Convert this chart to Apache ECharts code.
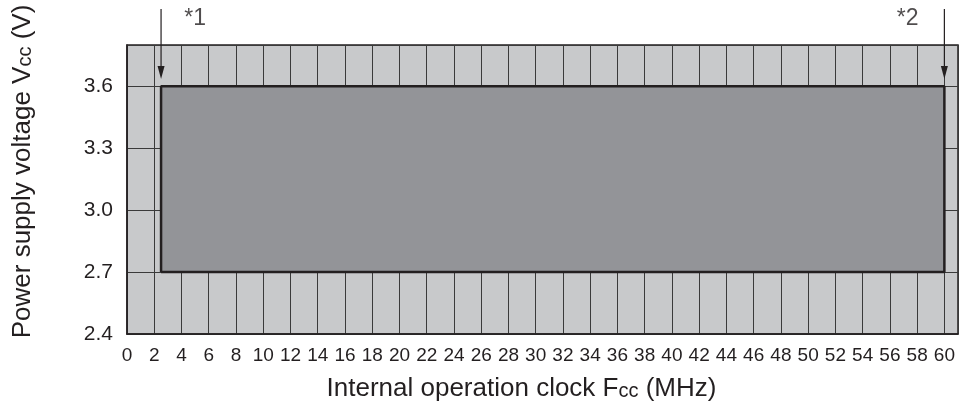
<!DOCTYPE html>
<html>
<head>
<meta charset="utf-8">
<script src="https://cdn.jsdelivr.net/npm/echarts@6/dist/echarts.min.js"></script>
<style>
  html, body {margin: 0; padding: 0; background: #fff;}
  #chart {width: 961px; height: 408px;}
</style>
</head>
<body>
<div id="chart"></div>
<script>
// axis ranges / ticks
const xRange = [0, 61];
const xStep = 2;
const xLabelMax = 60;
const yRange = [2.4, 3.8];
const yStep = 0.3;
const yTickLabels = ['2.4', '2.7', '3.0', '3.3', '3.6'];

// operating area
const areaFreq = [2.5, 60];
const areaVcc = [2.7, 3.6];

// note arrows: x position, arrow top, arrow tip
const noteFreq = [2.5, 60];
const noteNames = ['*1', '*2'];
const noteLabelFreq = [5.0, 57.3];
const arrowTop = 3.975;
const arrowTip = 3.635;
const noteLabelVcc = 3.93;

const font = '"Liberation Sans", Arial, sans-serif';
const ink = '#231f20';

const chart = echarts.init(document.getElementById('chart'));

const outline = [
  [areaFreq[0], areaVcc[0]],
  [areaFreq[0], areaVcc[1]],
  [areaFreq[1], areaVcc[1]],
  [areaFreq[1], areaVcc[0]],
  [areaFreq[0], areaVcc[0]]
];

const subStyle = {fontSize: 20, color: ink, fontFamily: font, verticalAlign: 'bottom', padding: [0, 0, 1, 0]};

// vertical arrow pointing down, drawn through the axes
function drawArrow(params, api) {
  const top = api.coord([api.value(0), api.value(1)]);
  const tip = api.coord([api.value(0), api.value(2)]);
  const headLen = 13, headHalf = 3.5;
  return {
    type: 'group',
    children: [
      {type: 'line', shape: {x1: top[0], y1: top[1], x2: tip[0], y2: tip[1] - headLen + 1},
       style: {stroke: ink, lineWidth: 1.2}},
      {type: 'polygon', shape: {points: [[tip[0] - headHalf, tip[1] - headLen], [tip[0] + headHalf, tip[1] - headLen], [tip[0], tip[1]]]},
       style: {fill: ink}}
    ]
  };
}

chart.setOption({
  animation: false,
  backgroundColor: '#fff',
  textStyle: {fontFamily: font},
  grid: {
    left: 127, right: 3, top: 45, bottom: 74,
    show: true,
    backgroundColor: '#c8c9cb',
    borderColor: ink,
    borderWidth: 1.5
  },
  xAxis: {
    type: 'value',
    min: xRange[0], max: xRange[1], interval: xStep,
    name: 'Internal operation clock F{s|cc} (MHz)',
    nameLocation: 'middle',
    nameGap: 42,
    nameTextStyle: {
      color: ink, fontSize: 26, fontFamily: font,
      padding: [0, 42, 0, 0],
      rich: {s: subStyle}
    },
    axisLine: {show: true, lineStyle: {color: ink, width: 1.5}},
    axisTick: {show: false},
    axisLabel: {
      color: ink, fontSize: 19, margin: 12, fontFamily: font,
      showMaxLabel: false,
      formatter: v => (v <= xLabelMax && v % xStep === 0) ? String(v) : ''
    },
    splitLine: {show: true, lineStyle: {color: '#3a3a3a', width: 1}}
  },
  yAxis: {
    type: 'value',
    min: yRange[0], max: yRange[1], interval: yStep,
    name: 'Power supply voltage V{s|cc} (V)',
    nameLocation: 'middle',
    nameGap: 91,
    nameTextStyle: {
      color: ink, fontSize: 26, fontFamily: font,
      padding: [0, 0, 0, 36],
      rich: {s: subStyle}
    },
    axisLine: {show: true, lineStyle: {color: ink, width: 1.5}},
    axisTick: {show: false},
    axisLabel: {
      color: ink, fontSize: 21, margin: 14, fontFamily: font,
      showMaxLabel: false,
      formatter: v => {
        const s = v.toFixed(1);
        return yTickLabels.includes(s) ? s : '';
      }
    },
    splitLine: {show: true, lineStyle: {color: '#3a3a3a', width: 1}}
  },
  series: [
    {
      type: 'line',
      data: outline,
      clip: false,
      symbol: 'none',
      lineStyle: {color: ink, width: 2.5},
      z: 3,
      markArea: {
        silent: true,
        itemStyle: {color: '#939498'},
        data: [[
          {coord: [areaFreq[0], areaVcc[0]]},
          {coord: [areaFreq[1], areaVcc[1]]}
        ]]
      }
    },
    {
      type: 'custom',
      clip: false,
      silent: true,
      z: 4,
      renderItem: drawArrow,
      encode: {x: 0, y: [1, 2]},
      data: noteFreq.map(f => [f, arrowTop, arrowTip])
    },
    {
      type: 'scatter',
      clip: false,
      symbolSize: 1,
      itemStyle: {color: 'rgba(0,0,0,0)'},
      label: {
        show: true, position: 'inside',
        color: ink, fontSize: 23, fontFamily: font,
        formatter: p => p.value[2]
      },
      data: noteNames.map((n, i) => [noteLabelFreq[i], noteLabelVcc, n])
    }
  ]
});
</script>
</body>
</html>
